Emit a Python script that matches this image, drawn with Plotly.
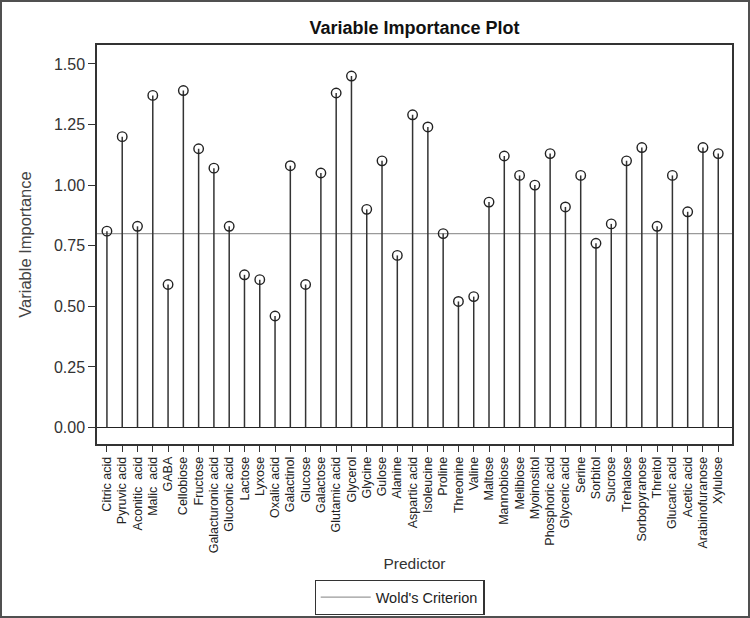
import plotly.graph_objects as go

predictors = [
    "Citric acid", "Pyruvic acid", "Aconitic  acid", "Malic  acid", "GABA",
    "Cellobiose", "Fructose", "Galacturonic acid", "Gluconic acid", "Lactose",
    "Lyxose", "Oxalic acid", "Galactinol", "Glucose", "Galactose",
    "Glutamic acid", "Glycerol", "Glycine", "Gulose", "Alanine",
    "Aspartic acid", "Isoleucine", "Proline", "Threonine", "Valine",
    "Maltose", "Mannobiose", "Melibiose", "Myoinositol", "Phosphoric acid",
    "Glyceric acid", "Serine", "Sorbitol", "Sucrose", "Trehalose",
    "Sorbopyranose", "Threitol", "Glucaric acid", "Acetic acid",
    "Arabinofuranose", "Xylulose",
]
importance = [
    0.81, 1.20, 0.83, 1.37, 0.59,
    1.39, 1.15, 1.07, 0.83, 0.63,
    0.61, 0.46, 1.08, 0.59, 1.05,
    1.38, 1.45, 0.90, 1.10, 0.71,
    1.29, 1.24, 0.80, 0.52, 0.54,
    0.93, 1.12, 1.04, 1.00, 1.13,
    0.91, 1.04, 0.76, 0.84, 1.10,
    1.155, 0.83, 1.04, 0.89,
    1.155, 1.13,
]
wold_criterion = 0.80
y_ticks = [0.0, 0.25, 0.5, 0.75, 1.0, 1.25, 1.5]

W, H = 750, 618
ml, mr, mt, mb = 97, 18, 45, 174
pw, ph = W - ml - mr, H - mt - mb

idx = list(range(len(predictors)))
x_range = [-0.65, len(predictors) - 1 + 0.9]
y_range = [-0.068, 1.578]

stem_x, stem_y = [], []
for i, v in zip(idx, importance):
    stem_x += [i, i, None]
    stem_y += [0, v, None]

fig = go.Figure()
fig.add_trace(go.Scatter(
    x=x_range, y=[wold_criterion, wold_criterion], mode="lines",
    line=dict(color="#9a9a9a", width=1.2), name="Wold's Criterion",
    showlegend=True, hoverinfo="skip"))
fig.add_trace(go.Scatter(
    x=stem_x, y=stem_y, mode="lines", line=dict(color="#333333", width=1.5),
    showlegend=False, hoverinfo="skip"))
fig.add_trace(go.Scatter(
    x=idx, y=importance, mode="markers",
    marker=dict(symbol="circle-open", size=9.5, color="#222222",
                line=dict(width=1.4, color="#222222")),
    showlegend=False, text=predictors))

fig.update_layout(
    width=W, height=H,
    margin=dict(l=ml, r=mr, t=mt, b=mb, autoexpand=False),
    paper_bgcolor="white", plot_bgcolor="white",
    font=dict(family="Liberation Sans, Arial, sans-serif", color="#222222"),
    title=dict(text="<b>Variable Importance Plot</b>", x=(ml + pw / 2) / W,
               xanchor="center", y=1 - 28 / H, yanchor="middle",
               font=dict(size=18, color="#111111")),
    showlegend=True,
    legend=dict(orientation="h", x=(399.5 - ml) / pw, xanchor="center",
                y=-(580 - (mt + ph)) / ph, yanchor="top",
                bordercolor="#333333", borderwidth=1.2,
                font=dict(size=14.5, color="#222222"), itemwidth=50,
                bgcolor="white"),
    xaxis=dict(range=x_range, tickmode="array", tickvals=idx,
               ticktext=predictors, tickangle=-90,
               tickfont=dict(size=12.5, color="#222222"),
               ticks="outside", ticklen=6, tickcolor="#333333", tickwidth=1.2,
               showline=True, mirror=True, linecolor="#333333", linewidth=1.5,
               showgrid=False, zeroline=False,
               title=dict(text="Predictor", standoff=6,
                          font=dict(size=15.5, color="#333333"))),
    yaxis=dict(range=y_range, tickmode="array", tickvals=y_ticks,
               tickformat=".2f", tickfont=dict(size=16, color="#333333"),
               ticks="outside", ticklen=7, tickcolor="#333333", tickwidth=1.2,
               showline=True, mirror=True, linecolor="#333333", linewidth=1.5,
               showgrid=False, zeroline=True, zerolinecolor="#222222",
               zerolinewidth=1.2,
               title=dict(text="Variable Importance", standoff=18,
                          font=dict(size=16.5, color="#444444"))),
    shapes=[dict(type="rect", xref="paper", yref="paper",
                 x0=-ml / pw, x1=1 + mr / pw, y0=-mb / ph, y1=1 + mt / ph,
                 line=dict(color="#505050", width=4), layer="above")],
)

fig.write_html("out.html",
               config={"displayModeBar": False},
               post_script="document.body.style.margin='0';"
                           "document.body.style.overflow='hidden';")
